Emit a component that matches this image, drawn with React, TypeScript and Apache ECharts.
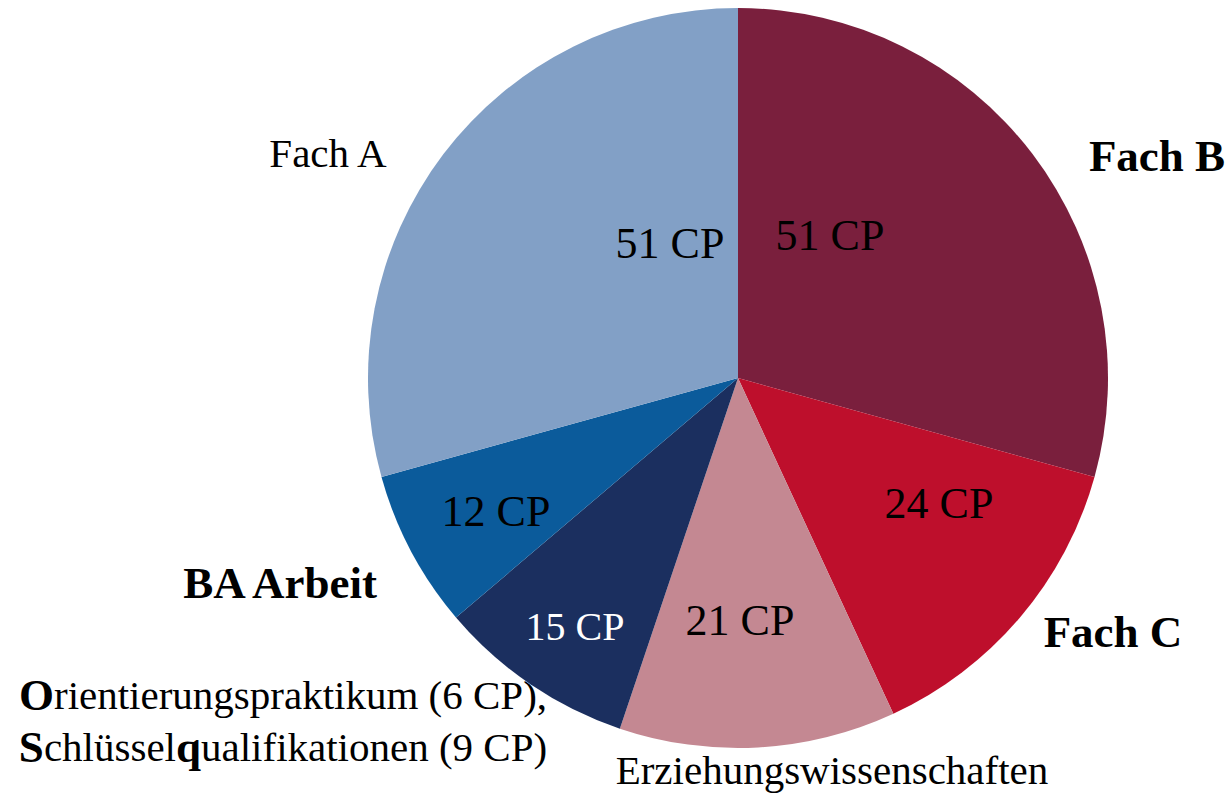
import React, { useEffect, useRef } from "react";
import * as echarts from "echarts";

const categories = [
  "Fach B",
  "Fach C",
  "Erziehungswissenschaften",
  "Orientierungspraktikum, Schlüsselqualifikationen",
  "BA Arbeit",
  "Fach A",
];
const creditPoints = [51, 24, 21, 15, 12, 51];
const sliceColors = ["#7A1F3D", "#BE0F2C", "#C48892", "#1B2F5F", "#0B5B9B", "#82A0C6"];
const innerLabels = ["51 CP", "24 CP", "21 CP", "15 CP", "12 CP", "51 CP"];
const outerLabels = [
  "{b|Fach B}",
  "{b|Fach C}",
  "Erziehungswissenschaften",
  "{b|O}rientierungspraktikum (6 CP),\n{b|S}chlüssel{b|q}ualifikationen (9 CP)",
  "{b|BA Arbeit}",
  "Fach A",
];

// label placement relative to pie centre (pixels)
const CENTER = [738, 378];
const innerOffsets = [
  [92, -143],
  [201, 125],
  [2, 242],
  [-163, 248],
  [-242, 133],
  [-68, -135],
];
const outerOffsets = [
  [419, -222],
  [375, 254],
  [94, 392],
  [-455, 343],
  [-458, 205],
  [-410, -225],
];

const FONT = "'Liberation Serif', 'DejaVu Serif', serif";

export default function App() {
  const ref = useRef<HTMLDivElement>(null);
  useEffect(() => {
    if (!ref.current) return;
    const chart = echarts.init(ref.current, undefined, { renderer: "svg" });
    const baseData = categories.map((name, i) => ({
      name,
      value: creditPoints[i],
    }));
    chart.setOption({
      animation: false,
      backgroundColor: "#ffffff",
      series: [
        {
          type: "pie",
          center: CENTER,
          radius: [0, 370],
          startAngle: 90,
          clockwise: true,
          silent: true,
          data: baseData.map((d, i) => ({
            ...d,
            itemStyle: { color: sliceColors[i] },
            label: {
              color: i === 3 ? "#ffffff" : "#000000",
              fontSize: i === 3 ? 40 : 44,
            },
          })),
          itemStyle: { borderWidth: 0 },
          label: {
            show: true,
            position: "inside",
            overflow: "none",
            formatter: (p: any) => innerLabels[p.dataIndex],
            fontFamily: FONT,
            fontSize: 44,
            color: "#000",
          },
          labelLine: { show: false },
          labelLayout: (p: any) => ({
            x: CENTER[0] + innerOffsets[p.dataIndex][0],
            y: CENTER[1] + innerOffsets[p.dataIndex][1],
            align: "center",
            verticalAlign: "middle",
          }),
        },
        {
          type: "pie",
          center: CENTER,
          radius: [0, 370],
          startAngle: 90,
          clockwise: true,
          silent: true,
          data: baseData.map((d, i) => (i === 2 ? { ...d, label: { lineHeight: 40 } } : d)),
          itemStyle: { color: "rgba(0,0,0,0)", borderWidth: 0 },
          label: {
            show: true,
            position: "inside",
            overflow: "none",
            formatter: (p: any) => outerLabels[p.dataIndex],
            fontFamily: FONT,
            fontSize: 41,
            color: "#000",
            lineHeight: 52,
            align: "center",
            rich: {
              b: {
                fontFamily: FONT,
                fontWeight: "bold",
                fontSize: 45,
                color: "#000",
                lineHeight: 52,
              },
            },
          },
          labelLine: { show: false },
          labelLayout: (p: any) => ({
            x: CENTER[0] + outerOffsets[p.dataIndex][0],
            y: CENTER[1] + outerOffsets[p.dataIndex][1],
            align: "center",
            verticalAlign: "middle",
          }),
        },
      ],
    });
    return () => chart.dispose();
  }, []);
  return (
    <div
      ref={ref}
      style={{ position: "fixed", left: 0, top: 0, width: 1231, height: 794 }}
    />
  );
}
